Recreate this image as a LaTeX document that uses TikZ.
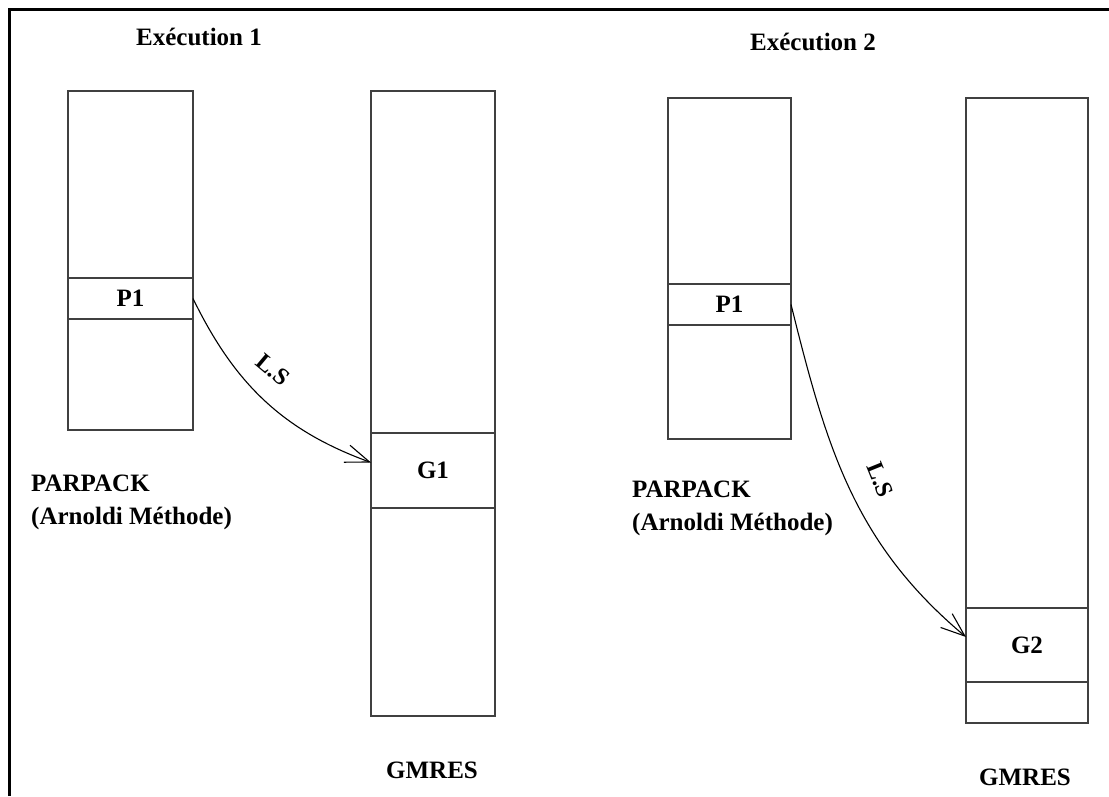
\documentclass[tikz,border=0pt]{standalone}
\usepackage{fontspec}
\setmainfont{Liberation Serif}
\usetikzlibrary{arrows.meta}
\newcommand{\boxfont}{\fontsize{25}{33}\selectfont\bfseries}
\newcommand{\lsfont}{\fontsize{24}{28}\selectfont\bfseries}
\begin{document}
\begin{tikzpicture}[x=1pt,y=-1pt,
  stackbox/.style={draw=black!75, line width=1.4pt, inner sep=0pt, outer sep=0pt, font=\boxfont},
  caption/.style={inner sep=0pt, font=\boxfont},
  link/.style={line width=1.1pt, -{Straight Barb[length=24pt,width=18pt]}},
  lslabel/.style={inner sep=0pt, font=\lsfont}]
\useasboundingbox (0,0) rectangle (1109,796);
\fill[white] (0,0) rectangle (1109,796);

% frame (only the left and top edges are shown)
\draw[line width=3pt] (9,796) -- (9,9) -- (1109,9);

% ---------- first run ----------
\node[caption] (t1) at (199,37) {Exécution 1};
\node[stackbox, minimum width=125pt, minimum height=339pt] (pa) at (130.5,260.5) {};
\node[stackbox, minimum width=125pt, minimum height=41pt] (pa1) at (130.5,298.5) {P1};
\node[stackbox, minimum width=124pt, minimum height=625pt] (ga) at (433,403.5) {};
\node[stackbox, minimum width=124pt, minimum height=75pt] (ga1) at (433,470.5) {G1};
\node[caption, anchor=west, align=left] (parpa) at (31,502) {PARPACK\\(Arnoldi Méthode)};
\node[caption] (gmresa) at (432,770) {GMRES};
\draw[link] (pa1.east) to[out=-64,in=160] ([yshift=8pt]ga1.west);
\node[lslabel, rotate=-40] (lsa) at (273,370) {L.S};

% ---------- second run ----------
\node[caption] (t2) at (813,42) {Exécution 2};
\node[stackbox, minimum width=123pt, minimum height=341pt] (pb) at (729.5,268.5) {};
\node[stackbox, minimum width=123pt, minimum height=41pt] (pb1) at (729.5,304.5) {P1};
\node[stackbox, minimum width=122pt, minimum height=625pt] (gb) at (1027,410.5) {};
\node[stackbox, minimum width=122pt, minimum height=74pt] (gb1) at (1027,645) {G2};
\node[caption, anchor=west, align=left] (parpb) at (632,508) {PARPACK\\(Arnoldi Méthode)};
\node[caption] (gmresb) at (1025,777) {GMRES};
\draw[link] (pb1.east) to[out=-76,in=140] ([yshift=8pt]gb1.west);
\node[lslabel, rotate=-68] (lsb) at (880,480) {L.S};
\end{tikzpicture}
\end{document}
